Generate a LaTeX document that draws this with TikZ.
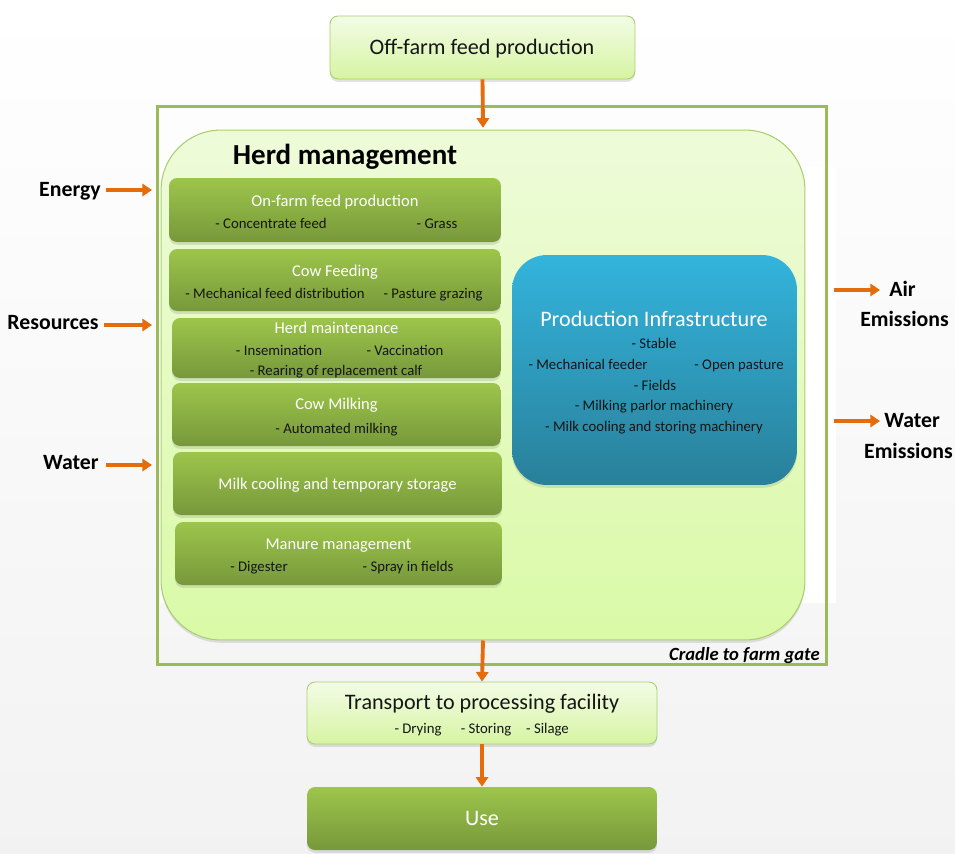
\documentclass[tikz,border=0pt]{standalone}
\usepackage{fontspec}
\setmainfont{Carlito}
\usetikzlibrary{arrows.meta,shadows}

\definecolor{framegreen}{HTML}{9BBB59}
\definecolor{flowarrow}{HTML}{E46C0A}
\definecolor{paletop}{HTML}{F3FCE6}
\definecolor{palebot}{HTML}{D6F4A2}
\definecolor{paleedge}{HTML}{A9CF6E}
\definecolor{herdtop}{HTML}{EEFBD9}
\definecolor{herdbot}{HTML}{DAFAA7}
\definecolor{leaftop}{HTML}{9DC54B}
\definecolor{leafbot}{HTML}{77983B}
\definecolor{bluetop}{HTML}{33B4DC}
\definecolor{bluebot}{HTML}{29809A}
\definecolor{inktext}{HTML}{151515}

\tikzset{
  softshadow/.style={drop shadow={opacity=0.22,shadow xshift=0pt,shadow yshift=-1.6pt}},
  palebox/.style={draw=paleedge,line width=0.5pt,rounded corners=0.16cm,
    top color=paletop,bottom color=palebot,softshadow,inner sep=0pt},
  leafbox/.style={draw=none,rounded corners=0.16cm,
    top color=leaftop,bottom color=leafbot,softshadow,inner sep=0pt},
  flow/.style={draw=flowarrow,line width=2.2pt,-{Triangle[length=5.5pt,width=7pt]}},
  txt/.style={inner sep=0pt,text height=0.72em,text depth=0.2em,text=inktext},
  title/.style={txt,text=white,yshift=-0.5pt,font=\fontsize{9.4}{11}\selectfont},
  bigtitle/.style={txt,yshift=-1.6pt,font=\fontsize{12.6}{14}\selectfont},
  item/.style={txt,yshift=-0.4pt,font=\fontsize{8.4}{10}\selectfont},
  side/.style={txt,text=black,yshift=-1.2pt,font=\bfseries\fontsize{12.4}{14}\selectfont},
}

\begin{document}
\begin{tikzpicture}[x=0.02cm,y=-0.02cm]
\useasboundingbox (0,0) rectangle (955,853);
% page background
\shade[top color=white,bottom color=black!5] (0,0) rectangle (955,853);
\fill[white] (160,167) rectangle (836,603);

% system boundary
\node[draw=framegreen,line width=1.7pt,minimum width=13.4cm,minimum height=11.18cm,inner sep=0pt]
  (frame) at (492,385.5) {};
\node[txt,text=black,anchor=east,yshift=-0.6pt,font=\bfseries\itshape\fontsize{10.6}{12}\selectfont]
  (cradle) at (820,655) {Cradle to farm gate};

% herd management area
\node[draw=paleedge,line width=0.6pt,rounded corners=1.2cm,top color=herdtop,bottom color=herdbot,
  softshadow,minimum width=12.88cm,minimum height=10.2cm,inner sep=0pt] (herd) at (483,385) {};
\node[txt,text=black,yshift=-2.8pt,font=\bfseries\fontsize{16.5}{19}\selectfont] (herdtitle) at (345,155) {Herd management};

% herd activities
\node[leafbox,minimum width=6.64cm,minimum height=1.28cm] (feedprod) at (335,210) {};
\node[title] (feedprodT) at (335,201) {On-farm feed production};
\node[item] (feedprodA) at (271,223) {- Concentrate feed};
\node[item] (feedprodB) at (437,223) {- Grass};

\node[leafbox,minimum width=6.64cm,minimum height=1.24cm] (feeding) at (335,280) {};
\node[title] (feedingT) at (335,271) {Cow Feeding};
\node[item] (feedingA) at (275,293) {- Mechanical feed distribution};
\node[item] (feedingB) at (433,293) {- Pasture grazing};

\node[leafbox,minimum width=6.58cm,minimum height=1.2cm] (maint) at (336.5,348) {};
\node[title] (maintT) at (336.5,328) {Herd maintenance};
\node[item] (maintA) at (279,350) {- Insemination};
\node[item] (maintB) at (405,350) {- Vaccination};
\node[item] (maintC) at (336,370) {- Rearing of replacement calf};

\node[leafbox,minimum width=6.58cm,minimum height=1.26cm] (milking) at (336.5,414.5) {};
\node[title] (milkingT) at (336.5,404) {Cow Milking};
\node[item] (milkingA) at (336.5,428) {- Automated milking};

\node[leafbox,minimum width=6.58cm,minimum height=1.26cm] (cooling) at (337.5,483.5) {};
\node[title] (coolingT) at (337.5,484) {Milk cooling and temporary storage};

\node[leafbox,minimum width=6.54cm,minimum height=1.26cm] (manure) at (338.5,553.5) {};
\node[title] (manureT) at (338.5,544) {Manure management};
\node[item] (manureA) at (259,566) {- Digester};
\node[item] (manureB) at (408,566) {- Spray in fields};

% infrastructure
\node[draw=none,rounded corners=0.7cm,top color=bluetop,bottom color=bluebot,softshadow,
  minimum width=5.7cm,minimum height=4.6cm,inner sep=0pt] (infra) at (654.5,370) {};
\node[bigtitle,text=white] (infraT) at (654,319) {Production Infrastructure};
\node[item] (infraA) at (654,343) {- Stable};
\node[item] (infraB) at (588,364) {- Mechanical feeder};
\node[item] (infraC) at (739,364) {- Open pasture};
\node[item] (infraD) at (655,385) {- Fields};
\node[item] (infraE) at (654,405) {- Milking parlor machinery};
\node[item] (infraF) at (654,426) {- Milk cooling and storing machinery};

% upstream and downstream stages
\node[palebox,minimum width=6.1cm,minimum height=1.26cm] (offfarm) at (482.5,47.5) {};
\node[bigtitle] (offfarmT) at (482,47) {Off-farm feed production};

\node[palebox,minimum width=7cm,minimum height=1.24cm] (transport) at (482,713) {};
\node[bigtitle] (transportT) at (482,702) {Transport to processing facility};
\node[item] (transportA) at (418,728) {- Drying};
\node[item] (transportB) at (486,728) {- Storing};
\node[item] (transportC) at (547.5,728) {- Silage};

\node[leafbox,minimum width=7cm,minimum height=1.26cm] (use) at (482,818.5) {};
\node[bigtitle,text=white] (useT) at (482,818) {Use};

% inputs
\node[side,anchor=east] (energy) at (101,190) {Energy};
\node[side,anchor=east] (resources) at (99,323) {Resources};
\node[side,anchor=east] (water) at (99,463) {Water};
\coordinate (energyin) at (106,190);
\coordinate (resourcesin) at (104,325);
\coordinate (waterin) at (106,465);
\draw[flow] (energyin) -- (152,190);
\draw[flow] (resourcesin) -- (152,325);
\draw[flow] (waterin) -- (152,465);

% outputs
\coordinate (airout) at (834,290);
\coordinate (airtip) at (880,290);
\coordinate (waterout) at (834,421);
\coordinate (watertip) at (880,421);
\draw[flow] (airout) -- (airtip);
\draw[flow] (waterout) -- (watertip);
\node[side,anchor=west] (air) at (889,290) {Air};
\node[side] (airem) at (904.5,320) {Emissions};
\node[side,anchor=west] (waterem1) at (884,421) {Water};
\node[side,anchor=east] (waterem2) at (953,452) {Emissions};

% main flow
\draw[flow] (offfarm.south) -- ([yshift=1pt]herd.north);
\draw[flow] (herd.south) -- (transport.north);
\draw[flow] (transport.south) -- (use.north);
\end{tikzpicture}
\end{document}
